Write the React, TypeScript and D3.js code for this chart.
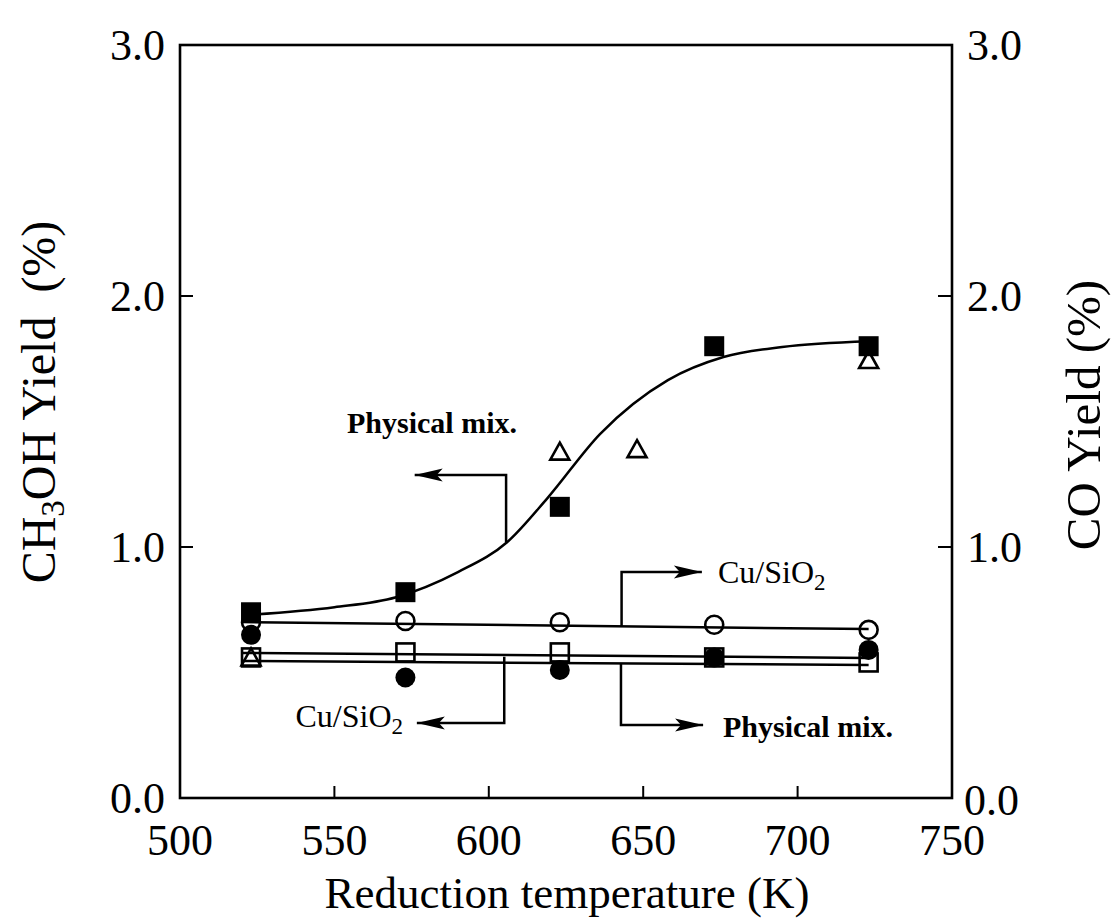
import React from "react";
import * as d3 from "d3";

// ---- data ----
const temps = [523, 573, 623, 673, 723];
const filledSquareVals = [0.74, 0.82, 1.16, 1.8, 1.8];
const openCircleVals = [0.7, 0.705, 0.7, 0.69, 0.67];
const openSquareVals = [0.56, 0.58, 0.58, 0.56, 0.54];
const filledCircleVals = [0.65, 0.48, 0.51, 0.56, 0.59];
const triangleTemps = [523, 623, 648, 723];
const triangleVals = [0.56, 1.38, 1.39, 1.745];

// fitted curve
const curveTemps = [523, 550, 570, 590, 606, 619, 636, 658, 676, 695, 723];
const curveVals = [0.73, 0.76, 0.8, 0.9, 1.02, 1.195, 1.45, 1.665, 1.757, 1.797, 1.82];

// straight fit lines
const lineTemps = [520, 723];
const circleLineVals = [0.701, 0.673];
const squareLineVals = [0.578, 0.558];
const dotLineVals = [0.546, 0.53];

const xTicks = [500, 550, 600, 650, 700, 750];
const yTicks = [0, 1, 2, 3];
const yTickLabels = ["0.0", "1.0", "2.0", "3.0"];

const FONT = "'Liberation Serif', 'Times New Roman', serif";

export default function App() {
  const x = d3.scaleLinear().domain([500, 750]).range([180, 952]);
  const y = d3.scaleLinear().domain([0, 3]).range([798, 45]);

  const curveLine = d3
    .line<number>()
    .x((_, i) => x(curveTemps[i]))
    .y((d) => y(d))
    .curve(d3.curveMonotoneX);

  const straight = (vals: number[]) =>
    d3
      .line<number>()
      .x((_, i) => x(lineTemps[i]))
      .y((d) => y(d))(vals) as string;

  const S = 20; // marker size
  const sw = 2.6;
  const lw = 2.5;

  const arrowHead = (tx: number, ty: number, dir: number) => {
    const L = 28;
    const H = 6.5;
    return `M${tx},${ty} L${tx - dir * L},${ty - H} L${tx - dir * (L - 6)},${ty} L${tx - dir * L},${ty + H} Z`;
  };

  // annotation geometry (in data units)
  const a1 = { stemK: 605.6, fromV: 1.02, toV: 1.287, tipK: 576 };
  const a2 = { stemK: 643, fromV: 0.685, toV: 0.9, tipK: 669 };
  const a3 = { stemK: 605, fromV: 0.563, toV: 0.299, tipK: 576.7 };
  const a4 = { stemK: 642.8, fromV: 0.537, toV: 0.291, tipK: 669.4 };

  const elbow = (a: { stemK: number; fromV: number; toV: number; tipK: number }) =>
    `M${x(a.stemK)},${y(a.fromV)} L${x(a.stemK)},${y(a.toV)} L${x(a.tipK)},${y(a.toV)}`;

  return (
    <svg
      width={1120}
      height={922}
      style={{ position: "absolute", left: 0, top: 0, background: "#fff" }}
      fontFamily={FONT}
    >
      <rect x={0} y={0} width={1120} height={922} fill="#fff" />
      {/* frame */}
      <rect
        x={x(500)}
        y={y(3)}
        width={x(750) - x(500)}
        height={y(0) - y(3)}
        fill="none"
        stroke="#000"
        strokeWidth={2.6}
      />
      {/* bottom ticks */}
      {xTicks.slice(1, -1).map((t) => (
        <line key={"xt" + t} x1={x(t)} x2={x(t)} y1={y(0)} y2={y(0) - 12} stroke="#000" strokeWidth={2} />
      ))}
      {/* side ticks */}
      {[1, 2].map((v) => (
        <g key={"yt" + v}>
          <line x1={x(500)} x2={x(500) + 13} y1={y(v)} y2={y(v)} stroke="#000" strokeWidth={2} />
          <line x1={x(750)} x2={x(750) - 14} y1={y(v)} y2={y(v)} stroke="#000" strokeWidth={2} />
        </g>
      ))}
      {/* x tick labels */}
      {xTicks.map((t) => (
        <text key={"xl" + t} x={x(t)} y={855} textAnchor="middle" fontSize={44}>
          {t}
        </text>
      ))}
      {/* left tick labels */}
      {yTicks.map((v, i) => (
        <text key={"yl" + v} x={165} y={y(v)} dy="0.35em" textAnchor="end" fontSize={44}>
          {yTickLabels[i]}
        </text>
      ))}
      {/* right tick labels */}
      {yTicks.map((v, i) => (
        <text
          key={"yr" + v}
          x={v === 0 ? 964 : 967}
          y={v === 0 ? y(v) + 2 : y(v)}
          dy="0.35em"
          textAnchor="start"
          fontSize={44}
        >
          {yTickLabels[i]}
        </text>
      ))}
      {/* axis titles */}
      <text x={567} y={908} textAnchor="middle" fontSize={45}>
        Reduction temperature (K)
      </text>
      <text
        transform="translate(38,402) rotate(-90)"
        textAnchor="middle"
        dy="0.35em"
        fontSize={48}
        style={{ whiteSpace: "pre" }}
      >
        CH
        <tspan fontSize={33} dy="9">3</tspan>
        <tspan dy="-9">{"OH Yield  (%)"}</tspan>
      </text>
      <text
        transform="translate(1083,415) rotate(-90)"
        textAnchor="middle"
        dy="0.35em"
        fontSize={49}
      >
        CO Yield (%)
      </text>

      {/* markers */}
      {temps.map((t, i) => (
        <circle key={"fc" + t} cx={x(t)} cy={y(filledCircleVals[i])} r={S / 2} fill="#000" />
      ))}
      {temps.map((t, i) => (
        <rect
          key={"os" + t}
          x={x(t) - S / 2 + 1}
          y={y(openSquareVals[i]) - S / 2 + 1}
          width={S - 2}
          height={S - 2}
          fill="none"
          stroke="#000"
          strokeWidth={sw}
        />
      ))}
      {temps.map((t, i) => (
        <circle
          key={"oc" + t}
          cx={x(t)}
          cy={y(openCircleVals[i])}
          r={S / 2 - 1}
          fill="none"
          stroke="#000"
          strokeWidth={sw}
        />
      ))}
      {triangleTemps.map((t, i) => {
        const cx = x(t);
        const cy = y(triangleVals[i]);
        return (
          <path
            key={"tr" + t}
            d={`M${cx},${cy - 9} L${cx + 9.5},${cy + 8} L${cx - 9.5},${cy + 8} Z`}
            fill="none"
            stroke="#000"
            strokeWidth={sw}
            strokeLinejoin="miter"
          />
        );
      })}
      {temps.map((t, i) => (
        <rect
          key={"fs" + t}
          x={x(t) - S / 2}
          y={y(filledSquareVals[i]) - S / 2}
          width={S}
          height={S}
          fill="#000"
        />
      ))}

      {/* fit lines */}
      <path d={curveLine(curveVals) as string} fill="none" stroke="#000" strokeWidth={lw} />
      <path d={straight(circleLineVals)} fill="none" stroke="#000" strokeWidth={lw} />
      <path d={straight(squareLineVals)} fill="none" stroke="#000" strokeWidth={lw} />
      <path d={straight(dotLineVals)} fill="none" stroke="#000" strokeWidth={lw} />

      {/* annotations */}
      {[a1, a2, a3, a4].map((a, i) => (
        <g key={"an" + i}>
          <path d={elbow(a)} fill="none" stroke="#000" strokeWidth={lw} />
          <path d={arrowHead(x(a.tipK), y(a.toV), a.tipK > a.stemK ? 1 : -1)} fill="#000" />
        </g>
      ))}
      <text x={347} y={433} fontSize={30} fontWeight="bold">
        Physical mix.
      </text>
      <text x={718} y={583} fontSize={32}>
        Cu/SiO<tspan fontSize={23} dy="7">2</tspan>
      </text>
      <text x={403} y={727} fontSize={32} textAnchor="end">
        Cu/SiO<tspan fontSize={23} dy="7">2</tspan>
      </text>
      <text x={723} y={737} fontSize={30} fontWeight="bold">
        Physical mix.
      </text>
    </svg>
  );
}
